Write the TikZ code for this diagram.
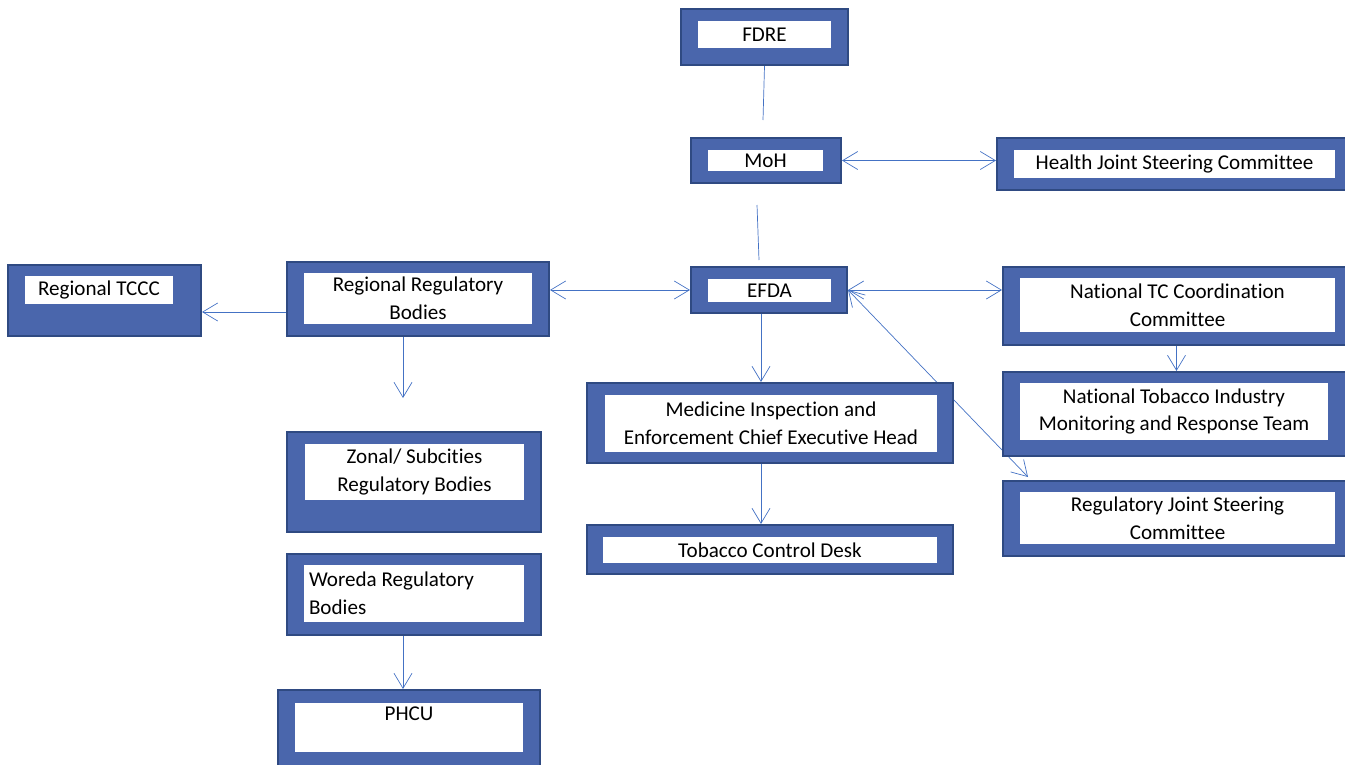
\documentclass[tikz,border=0pt]{standalone}
\usepackage{fontspec}
\setmainfont{Carlito}[Ligatures=NoCommon]
\usepackage{tikz}
\usetikzlibrary{arrows.meta}
\usetikzlibrary{calc}
\usetikzlibrary{backgrounds}
\definecolor{org-blue}{HTML}{4A66AC}
\definecolor{org-edge}{HTML}{2F4A82}
\definecolor{org-line}{HTML}{4472C4}

\begin{document}
\begin{tikzpicture}[x=0.02cm, y=-0.02cm]

    \useasboundingbox (0,0) rectangle (1345,764);

    % outer boxes
    \begin{scope}[every node/.style={rectangle, draw=org-edge, line width=1.2pt, fill=org-blue, inner sep=0pt}]
        \node[minimum width=3.34cm, minimum height=1.12cm] (fdre) at (764.5,37) {};
        \node[minimum width=3.00cm, minimum height=0.90cm] (moh) at (766,160.5) {};
        \node[minimum width=7.06cm, minimum height=1.04cm] (hjsc) at (1173.5,164) {};
        \node[minimum width=3.12cm, minimum height=0.92cm] (efda) at (769,290) {};
        \node[minimum width=5.24cm, minimum height=1.48cm] (rrb) at (418,299) {};
        \node[minimum width=3.86cm, minimum height=1.42cm] (tccc) at (104.5,300.5) {};
        \node[minimum width=6.94cm, minimum height=1.56cm] (ntcc) at (1176.5,306) {};
        \node[minimum width=7.32cm, minimum height=1.60cm] (mie) at (770,423) {};
        \node[minimum width=6.94cm, minimum height=1.68cm] (ntim) at (1176.5,414) {};
        \node[minimum width=6.94cm, minimum height=1.50cm] (rjsc) at (1176.5,518.5) {};
        \node[minimum width=5.08cm, minimum height=2.00cm] (zonal) at (414,482) {};
        \node[minimum width=5.08cm, minimum height=1.62cm] (woreda) at (414,594.5) {};
        \node[minimum width=7.32cm, minimum height=0.98cm] (tcd) at (770,549.5) {};
        \node[minimum width=5.24cm, minimum height=1.60cm] (phcu) at (409,730) {};
    \end{scope}

    % labels
    \begin{scope}[every node/.style={rectangle, fill=white, inner sep=0pt, align=center,
                  font=\fontsize{12}{15.9}\selectfont}]
        \node[minimum width=2.66cm, minimum height=0.54cm] (fdre-t) at (764.5,34.5) {FDRE};
        \node[minimum width=2.30cm, minimum height=0.42cm] (moh-t) at (765.5,160.5) {MoH};
        \node[minimum width=6.42cm, minimum height=0.56cm] (hjsc-t) at (1174.5,164) {Health Joint Steering Committee};
        \node[minimum width=2.46cm, minimum height=0.46cm] (efda-t) at (769.5,290.5) {EFDA};
        \node[minimum width=4.56cm, minimum height=1.02cm] (rrb-t) at (418,298.5) {Regional Regulatory\\Bodies};
        \node[minimum width=2.96cm, minimum height=0.56cm] (tccc-t) at (99,290) {Regional TCCC};
        \node[minimum width=6.30cm, minimum height=1.08cm] (ntcc-t) at (1177.5,305) {National TC Coordination\\Committee};
        \node[minimum width=6.64cm, minimum height=1.14cm] (mie-t) at (771,423.5) {Medicine Inspection and\\Enforcement Chief Executive Head};
        \node[minimum width=6.16cm, minimum height=1.14cm] (ntim-t) at (1174,411.5) {National Tobacco Industry\\Monitoring and Response Team};
        \node[minimum width=6.30cm, minimum height=1.04cm] (rjsc-t) at (1177.5,518) {Regulatory Joint Steering\\Committee};
        \node[minimum width=4.38cm, minimum height=1.12cm] (zonal-t) at (414.5,472) {Zonal/ Subcities\\Regulatory Bodies};
        \node[minimum width=4.40cm, minimum height=1.14cm, align=flush left, text width=4.2cm] (woreda-t) at (414,593.5) {Woreda Regulatory\\Bodies};
        \node[minimum width=6.68cm, minimum height=0.52cm] (tcd-t) at (770,550) {Tobacco Control Desk};
        \node[minimum width=4.56cm, minimum height=0.98cm] (phcu-t) at (409,727.5) {PHCU\\\mbox{}};
    \end{scope}

    % loose ends
    \coordinate (fdre-end) at (763,120);
    \coordinate (moh-stub) at (757,205);
    \coordinate (efda-stub) at (759,260);
    \coordinate (rrb-end) at (403,398);
    \coordinate (rjsc-tip) at (1028,477);

    % connectors
    \begin{scope}[on background layer, draw=org-line, line width=0.6pt,
                  >={Straight Barb[length=3mm, width=3.6mm]}]
        \draw[org-line] (fdre.south) -- (fdre-end);
        \draw[org-line] (moh-stub) -- (efda-stub);
        \draw[org-line, <->] (moh.east) -- (moh.east -| hjsc.west);
        \draw[org-line, <->] (efda.west -| rrb.east) -- (efda.west);
        \draw[org-line, ->] ([yshift=-0.26cm]rrb.west) -- ([yshift=-0.26cm]rrb.west -| tccc.east);
        \draw[org-line, ->] (rrb.south -| rrb-end) -- (rrb-end);
        \draw[org-line, <->] (efda.east) -- (efda.east -| ntcc.west);
        \draw[org-line, ->] ([xshift=-0.16cm]efda.south) -- ([xshift=-0.16cm]efda.south |- mie.north);
        \draw[org-line, ->] (ntcc.south) -- (ntim.north);
        \draw[org-line, <->] (efda.east) -- (rjsc-tip);
        \draw[org-line, ->] ([xshift=-0.18cm]mie.south) -- ([xshift=-0.18cm]mie.south |- tcd.north);
        \draw[org-line, ->] ([xshift=-0.22cm]woreda.south) -- ([xshift=-0.22cm]woreda.south |- phcu.north);
    \end{scope}

\end{tikzpicture}
\end{document}
